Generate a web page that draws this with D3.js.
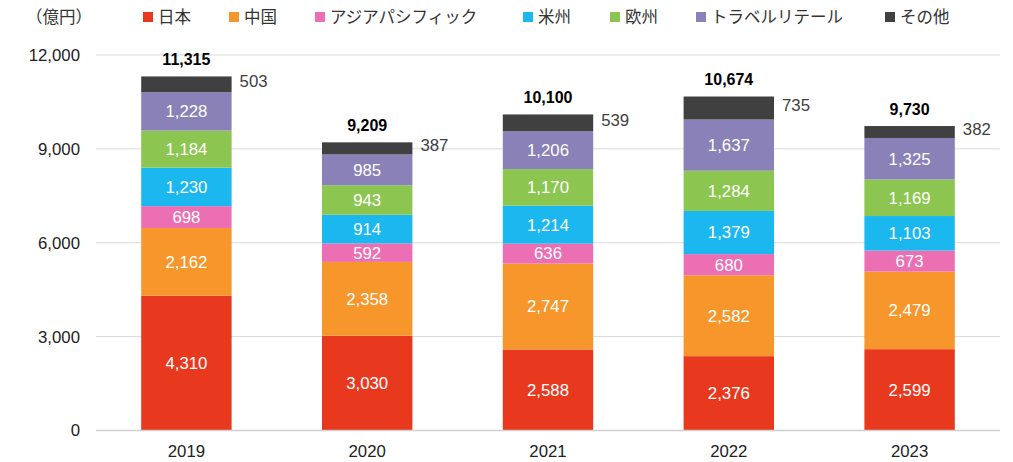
<!DOCTYPE html>
<html><head><meta charset="utf-8">
<script src="https://cdn.jsdelivr.net/npm/d3@7"></script>
<style>body{margin:0;background:#fff}svg{font-family:"Liberation Sans","Noto Sans CJK JP",Arial,sans-serif}</style>
</head><body><svg id="c" width="1013" height="462"></svg>
<script>
const years = ["2019","2020","2021","2022","2023"];
const seriesNames = ["日本","中国","アジアパシフィック","米州","欧州","トラベルリテール","その他"];
const japan = [4310,3030,2588,2376,2599];
const china = [2162,2358,2747,2582,2479];
const apac = [698,592,636,680,673];
const americas = [1230,914,1214,1379,1103];
const europe = [1184,943,1170,1284,1169];
const travel = [1228,985,1206,1637,1325];
const other = [503,387,539,735,382];
const totals = [11315,9209,10100,10674,9730];
const yTicks = [0,3000,6000,9000,12000];
const colors = ["#e8391f","#f6962b","#ec6fb4","#1ab8ee","#8cc651","#8a81b9","#404040"];

const seriesVals = [japan,china,apac,americas,europe,travel,other];
const rows = years.map((y,i)=>{const r={year:y};seriesNames.forEach((n,k)=>r[n]=seriesVals[k][i]);return r;});
const stack = d3.stack().keys(seriesNames)(rows);

const svg = d3.select("#c");
const x = d3.scaleBand().domain(years).range([96,1000]).paddingInner(0.5).paddingOuter(0.25);
const y = d3.scaleLinear().domain([0,12000]).range([430.5,55]);
const fmt = d3.format(",");
const FS = 16.8;

svg.append("g").selectAll("line").data(yTicks.filter(t=>t>0)).join("line")
 .attr("x1",96).attr("x2",1000).attr("y1",d=>y(d)).attr("y2",d=>y(d))
 .attr("stroke","#d9d9d9").attr("stroke-width",1);
svg.append("g").selectAll("text").data(yTicks).join("text")
 .attr("x",80).attr("y",d=>y(d)).attr("dy","0.35em").attr("text-anchor","end")
 .attr("font-size",FS).attr("fill","#222").text(d=>fmt(d));

const g = svg.append("g");
stack.forEach((s,k)=>{
  g.append("g").selectAll("rect").data(s).join("rect")
   .attr("x",d=>x(d.data.year)).attr("width",x.bandwidth())
   .attr("y",d=>y(d[1])).attr("height",d=>y(d[0])-y(d[1]))
   .attr("fill",colors[k]);
  if(k<6){
    g.append("g").selectAll("text").data(s).join("text")
     .attr("x",d=>x(d.data.year)+x.bandwidth()/2).attr("y",d=>(y(d[0])+y(d[1]))/2)
     .attr("dy","0.35em").attr("text-anchor","middle").attr("font-size",FS).attr("fill","#fff")
     .text(d=>fmt(d[1]-d[0]));
  } else {
    g.append("g").selectAll("text").data(s).join("text")
     .attr("x",d=>x(d.data.year)+x.bandwidth()+8).attr("y",d=>(y(d[0])+y(d[1]))/2-3)
     .attr("dy","0.35em").attr("text-anchor","start").attr("font-size",FS).attr("fill","#404040")
     .text(d=>fmt(d[1]-d[0]));
  }
});
svg.append("g").selectAll("text").data(years).join("text")
 .attr("x",d=>x(d)+x.bandwidth()/2).attr("y",(d,i)=>y(totals[i])-11)
 .attr("text-anchor","middle").attr("font-size",16).attr("font-weight","bold").attr("fill","#000")
 .text((d,i)=>fmt(totals[i]));

svg.append("line").attr("x1",96).attr("x2",1000).attr("y1",y(0)).attr("y2",y(0)).attr("stroke","#d0d0d0").attr("stroke-width",1.5);
svg.append("g").selectAll("text").data(years).join("text")
 .attr("x",d=>x(d)+x.bandwidth()/2).attr("y",457).attr("text-anchor","middle")
 .attr("font-size",FS).attr("fill","#222").text(d=>d);

svg.append("text").attr("x",26).attr("y",23).attr("font-size",16.5).attr("fill","#333").text("（億円）");
const legX = [143,229,315,523,610,696,885];
const leg = svg.append("g").selectAll("g").data(seriesNames).join("g").attr("transform",(d,i)=>`translate(${legX[i]},0)`);
leg.append("rect").attr("x",0).attr("y",12).attr("width",10).attr("height",10).attr("fill",(d,i)=>colors[i]);
leg.append("text").attr("x",15).attr("y",17).attr("dy","0.35em").attr("font-size",16.5).attr("fill","#333").text(d=>d);
</script></body></html>
